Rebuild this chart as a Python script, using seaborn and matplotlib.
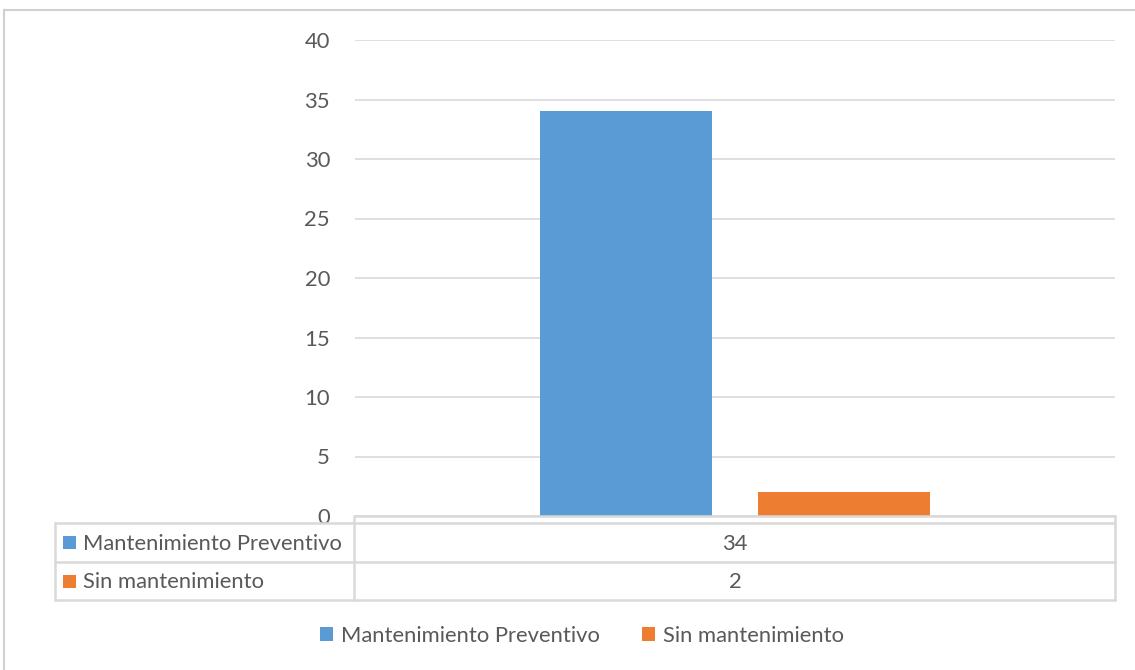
import matplotlib
matplotlib.use("Agg")
import matplotlib.pyplot as plt
from matplotlib.patches import Rectangle
from matplotlib.lines import Line2D
import seaborn as sns
import pandas as pd

# ---- data ----
categories = [""]
series = ["Mantenimiento Preventivo", "Sin mantenimiento"]
values = [34, 2]
colors = ["#5B9BD5", "#ED7D31"]
yticks = [0, 5, 10, 15, 20, 25, 30, 35, 40]

df = pd.DataFrame({"cat": categories * len(series), "serie": series, "val": values})

sns.set_theme(style="white")
plt.rcParams["font.family"] = ["Lato", "DejaVu Sans"]
TXT = "#595959"
GRID = "#D9D9D9"
FS = 15.8

W, H = 1135, 670
fig = plt.figure(figsize=(W / 100, H / 100), dpi=100)

def fx(px):
    return px / W

def fy(py):
    return 1 - py / H

# plot area
L, R, T, B = 355, 1115, 40, 516
ax = fig.add_axes([fx(L), fy(B), fx(R) - fx(L), fy(T) - fy(B)])
sns.barplot(data=df, x="cat", y="val", hue="serie", palette=colors,
            width=0.574, gap=0.213, ax=ax, legend=False, saturation=1)
ax.set_ylim(0, 40)
ax.set_xlim(-0.5, 0.5)
ax.set_yticks(yticks)
ax.set_yticklabels([str(t) for t in yticks], color=TXT, fontsize=FS)
ax.tick_params(axis="y", length=0, pad=18)
ax.set_xticks([])
ax.set_xlabel("")
ax.set_ylabel("")
for s in ax.spines.values():
    s.set_visible(False)
ax.yaxis.grid(True, color=GRID, linewidth=1.2)
ax.set_axisbelow(True)
for b in ax.patches:
    b.set_edgecolor("none")

# outer chart border
fig.patches.append(Rectangle((fx(4), fy(680)), fx(1145) - fx(4), fy(10) - fy(680),
                             transform=fig.transFigure, fill=False,
                             edgecolor="#D0D0D0", linewidth=1.5))

# data table
def hline(x0, x1, y):
    fig.add_artist(Line2D([fx(x0), fx(x1)], [fy(y), fy(y)], color=GRID, linewidth=1.8,
                          transform=fig.transFigure))

def vline(x, y0, y1):
    fig.add_artist(Line2D([fx(x), fx(x)], [fy(y0), fy(y1)], color=GRID, linewidth=1.8,
                          transform=fig.transFigure))

TL, TR = 55, 1115
rows_y = [523, 562, 600]
hline(L, TR, B)
hline(TL, TR, rows_y[0])
hline(TL, TR, rows_y[1])
hline(TL, TR, rows_y[2])
vline(TL, rows_y[0], rows_y[2])
vline(L - 1, B, rows_y[2])
vline(TR, B, rows_y[2])

for i, (name, val, col) in enumerate(zip(series, values, colors)):
    yc = (rows_y[i] + rows_y[i + 1]) / 2
    fig.patches.append(Rectangle((fx(63), fy(yc + 6.5)), fx(76) - fx(63), fy(yc - 6.5) - fy(yc + 6.5),
                                 transform=fig.transFigure, facecolor=col, edgecolor="none"))
    fig.text(fx(83), fy(yc + 1), name, ha="left", va="center", color=TXT, fontsize=FS)
    fig.text(fx((L + TR) / 2), fy(yc + 1), str(val), ha="center", va="center", color=TXT, fontsize=FS)

# legend
handles = [Rectangle((0, 0), 1, 1, facecolor=c, edgecolor="none") for c in colors]
fig.legend(handles, series, loc="center", bbox_to_anchor=(fx(582), fy(636)),
           ncol=2, frameon=False, fontsize=FS, handlelength=0.58, handleheight=0.58,
           handletextpad=0.37, columnspacing=1.9, labelcolor=TXT)

fig.savefig("out.png", dpi=100, facecolor="white")
